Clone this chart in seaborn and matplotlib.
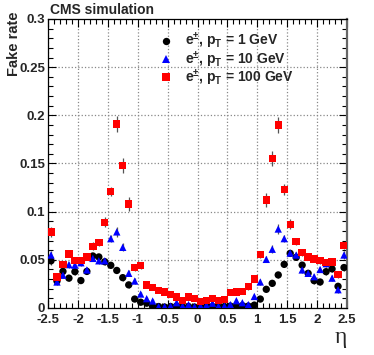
import numpy as np
import pandas as pd
import seaborn as sns
import matplotlib
matplotlib.use("Agg")
import matplotlib.pyplot as plt
from matplotlib.ticker import MultipleLocator, FuncFormatter

# eta bin centres (50 bins of 0.1 from -2.5 to 2.5)
eta = np.round(np.arange(-2.45, 2.46, 0.1), 2)

# fake rate, 1 GeV electrons
rate_1 = [0.049, 0.028, 0.038, 0.031, 0.0377, 0.0285, 0.038, 0.054, 0.053, 0.048,
          0.0443, 0.039, 0.0315, 0.024, 0.0093, 0.006, 0.005, 0.0015, 0.0015, 0.001,
          0.0015, 0.002, 0.001, 0.0015, 0.001, 0.001, 0.0015, 0.0015, 0.001, 0.0015,
          0.002, 0.002, 0.0025, 0.002, 0.003, 0.0093, 0.0194, 0.0256, 0.0343, 0.0453,
          0.0567, 0.0526, 0.0445, 0.036, 0.0284, 0.027, 0.0377, 0.0406, 0.0225, 0.042]
err_1 = [0.004, 0.003, 0.003, 0.003, 0.003, 0.003, 0.003, 0.003, 0.003, 0.003,
         0.003, 0.003, 0.003, 0.003, 0.002, 0.002, 0.002, 0.001, 0.001, 0.001,
         0.001, 0.001, 0.001, 0.001, 0.001, 0.001, 0.001, 0.001, 0.001, 0.001,
         0.001, 0.001, 0.001, 0.001, 0.001, 0.002, 0.003, 0.003, 0.003, 0.003,
         0.003, 0.003, 0.003, 0.003, 0.003, 0.003, 0.003, 0.003, 0.003, 0.004]

# fake rate, 10 GeV electrons
rate_10 = [0.055, 0.027, 0.034, 0.045, 0.0445, 0.047, 0.0395, 0.0515, 0.049, 0.049,
           0.072, 0.079, 0.063, 0.036, 0.028, 0.0145, 0.0097, 0.0073, 0.0014, 0.0014,
           0.002, 0.0055, 0.002, 0.0035, 0.0014, 0.002, 0.003, 0.005, 0.002, 0.002,
           0.0035, 0.0076, 0.0055, 0.0035, 0.012, 0.027, 0.0505, 0.061, 0.082, 0.072,
           0.057, 0.055, 0.0395, 0.036, 0.0325, 0.040, 0.046, 0.031, 0.019, 0.055]
err_10 = [0.004, 0.003, 0.003, 0.003, 0.003, 0.003, 0.003, 0.003, 0.003, 0.003,
          0.004, 0.005, 0.004, 0.003, 0.003, 0.002, 0.002, 0.002, 0.002, 0.002,
          0.002, 0.002, 0.002, 0.002, 0.002, 0.002, 0.002, 0.002, 0.002, 0.002,
          0.002, 0.002, 0.002, 0.002, 0.002, 0.003, 0.003, 0.004, 0.005, 0.004,
          0.003, 0.003, 0.003, 0.003, 0.003, 0.003, 0.003, 0.003, 0.003, 0.004]

# fake rate, 100 GeV electrons
rate_100 = [0.079, 0.032, 0.045, 0.056, 0.049, 0.049, 0.053, 0.064, 0.068, 0.089,
            0.121, 0.191, 0.148, 0.108, 0.042, 0.044, 0.024, 0.0215, 0.018, 0.0165,
            0.014, 0.0115, 0.008, 0.0115, 0.010, 0.007, 0.0076, 0.010, 0.0076, 0.009,
            0.016, 0.0166, 0.017, 0.022, 0.030, 0.0555, 0.112, 0.155, 0.190, 0.123,
            0.087, 0.069, 0.0575, 0.053, 0.051, 0.049, 0.047, 0.0477, 0.0346, 0.065]
err_100 = [0.005, 0.003, 0.003, 0.003, 0.003, 0.003, 0.003, 0.004, 0.004, 0.005,
           0.005, 0.008, 0.008, 0.007, 0.004, 0.004, 0.003, 0.003, 0.002, 0.002,
           0.002, 0.002, 0.002, 0.002, 0.002, 0.002, 0.002, 0.002, 0.002, 0.002,
           0.002, 0.002, 0.002, 0.003, 0.003, 0.004, 0.007, 0.008, 0.008, 0.006,
           0.005, 0.004, 0.004, 0.003, 0.003, 0.003, 0.003, 0.003, 0.003, 0.004]

labels = [r"e$^{\pm}$, p$_{\rm T}$ = 1 GeV",
          r"e$^{\pm}$, p$_{\rm T}$ = 10 GeV",
          r"e$^{\pm}$, p$_{\rm T}$ = 100 GeV"]
colors = ["black", "#0000ff", "#ff0000"]
markers = ["o", "^", "s"]

df = pd.concat([
    pd.DataFrame({"eta": eta, "rate": r, "err": e, "sample": lab})
    for r, e, lab in zip([rate_1, rate_10, rate_100], [err_1, err_10, err_100], labels)
], ignore_index=True)

sns.set_style("ticks")
plt.rcParams["font.family"] = ["Liberation Sans", "DejaVu Sans"]
plt.rcParams["font.weight"] = "bold"
plt.rcParams["axes.unicode_minus"] = False
plt.rcParams["mathtext.fontset"] = "custom"
plt.rcParams["mathtext.rm"] = "Liberation Sans:bold"
plt.rcParams["mathtext.bf"] = "Liberation Sans:bold"
plt.rcParams["mathtext.default"] = "bf"

fig = plt.figure(figsize=(3.74, 3.55), dpi=100)
ax = fig.add_axes([48 / 374, 1 - 308 / 355, 299 / 374, 289 / 355])

# error bars first, markers on top
for lab in labels:
    d = df[df["sample"] == lab]
    ax.errorbar(d["eta"], d["rate"], yerr=d["err"], fmt="none",
                ecolor="#555555", elinewidth=0.9, zorder=2)

sns.scatterplot(data=df, x="eta", y="rate", hue="sample", style="sample",
                hue_order=labels, style_order=labels,
                palette=dict(zip(labels, colors)), markers=dict(zip(labels, markers)),
                s=28, linewidth=0, ax=ax, zorder=3)

ax.set_xlim(-2.5, 2.5)
ax.set_ylim(0, 0.3)
ax.xaxis.set_major_locator(MultipleLocator(0.5))
ax.xaxis.set_minor_locator(MultipleLocator(0.1))
ax.yaxis.set_major_locator(MultipleLocator(0.05))
ax.yaxis.set_minor_locator(MultipleLocator(0.01))
ax.xaxis.set_major_formatter(FuncFormatter(lambda v, p: "%g" % round(v, 2)))
ax.yaxis.set_major_formatter(FuncFormatter(lambda v, p: "%g" % round(v, 2)))
ax.tick_params(which="both", direction="in", top=True, right=True,
               labelsize=9.5, width=0.8, color="black")
ax.tick_params(axis="x", pad=4)
ax.tick_params(axis="y", pad=2)
ax.tick_params(which="major", length=6)
ax.tick_params(which="minor", length=3.5)
for t in ax.get_xticklabels() + ax.get_yticklabels():
    t.set_fontweight("bold")
ax.grid(True, which="major", linestyle=":", color="#888888", linewidth=0.9)

for sp in ax.spines.values():
    sp.set_color("black")
    sp.set_linewidth(0.9)
ax.spines["right"].set_color("#666666")
ax.spines["right"].set_linewidth(1.6)

ax.set_xlabel("")
ax.set_ylabel("")

handles, labs = ax.get_legend_handles_labels()
ax.legend(handles, labs, loc="upper left", bbox_to_anchor=(0.37, 0.958),
          frameon=False, fontsize=10, handlelength=1.0, handletextpad=0.9,
          labelspacing=-0.15, borderaxespad=0, borderpad=0)

fig.text(50 / 374, 1 - 14 / 355, "CMS simulation", fontsize=10,
         fontweight="bold", va="baseline", ha="left")
fig.text(14 / 374, 1 - 12 / 355, "Fake rate", fontsize=10.5, fontweight="bold",
         rotation=90, ha="center", va="top")
fig.text(341 / 374, 1 - 338 / 355, "η", fontsize=17, ha="center", va="center",
         family="Liberation Serif", fontweight="normal")

fig.savefig("out.png", dpi=100)
